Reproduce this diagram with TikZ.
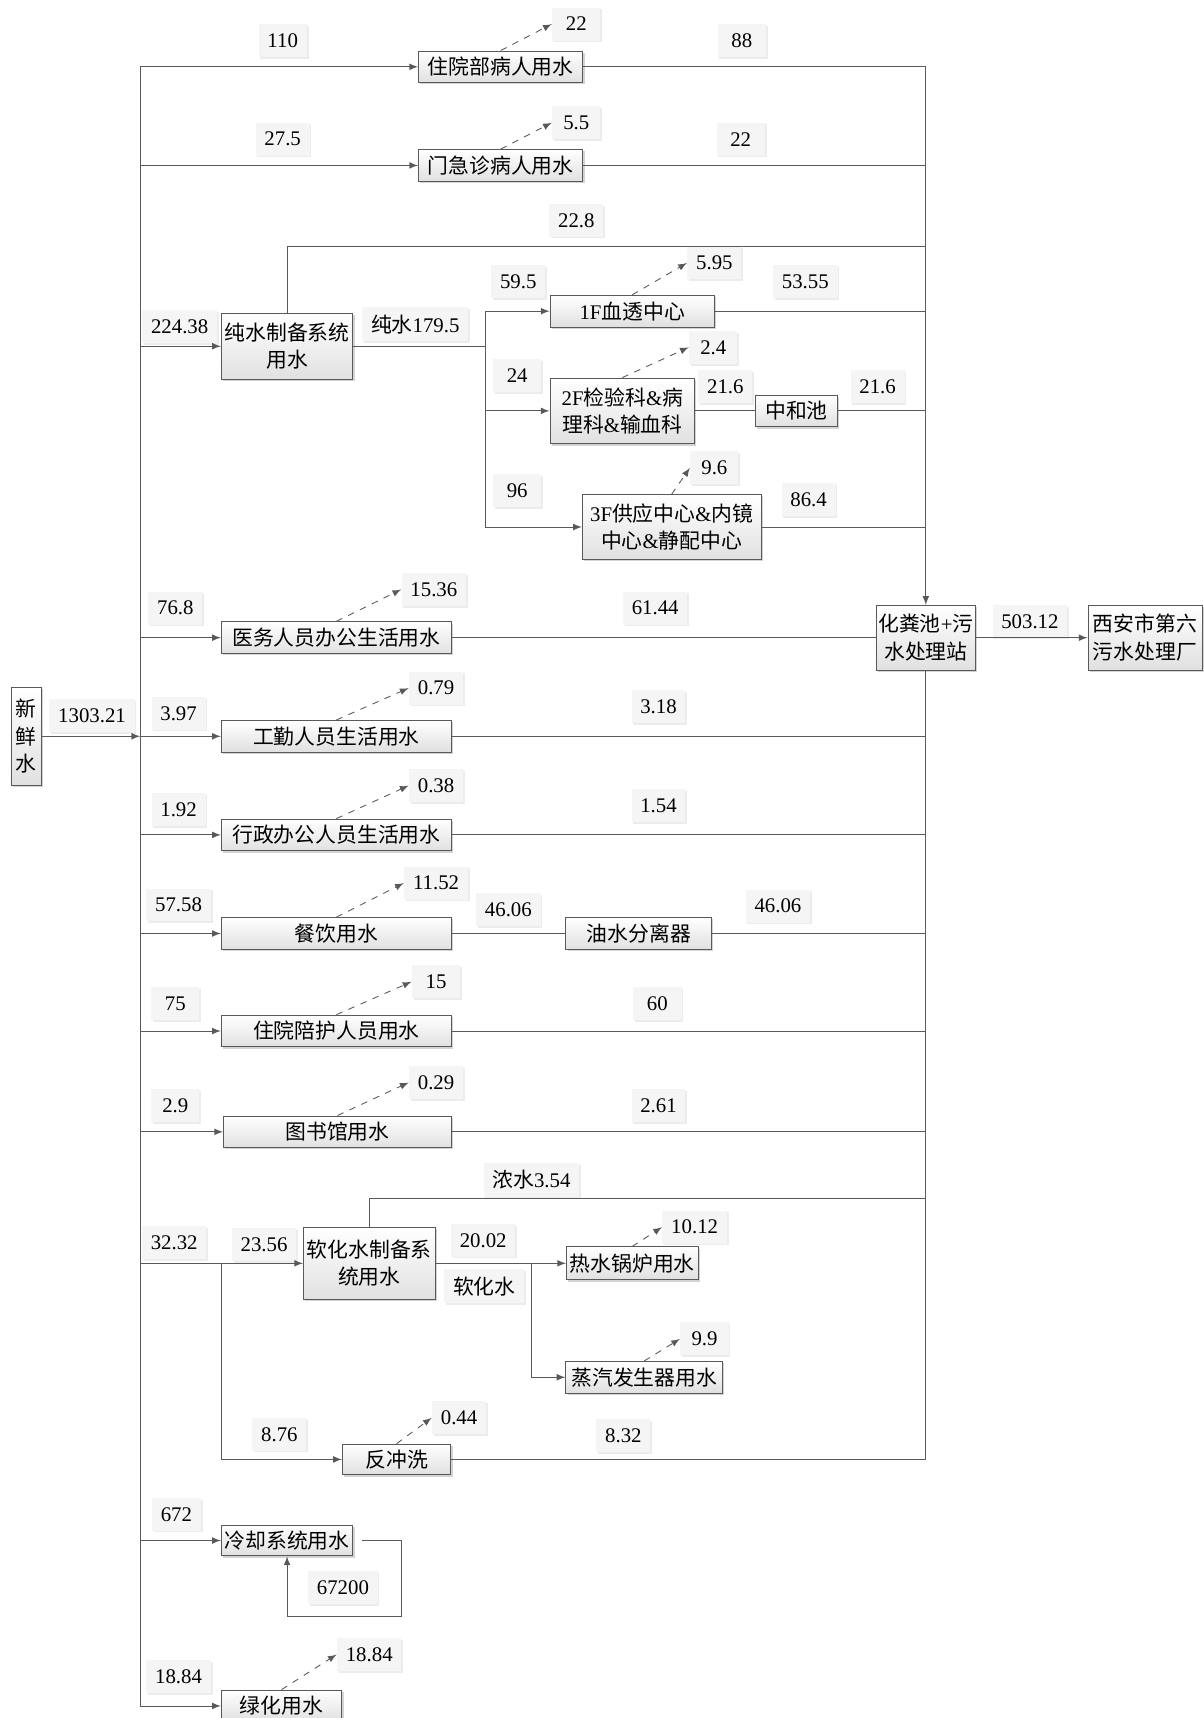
\documentclass[tikz,border=0pt]{standalone}
\usepackage{fontspec}
\setmainfont{Liberation Serif}
\newfontfamily\cjk{Noto Sans CJK SC}
\newcommand\zh[1]{{\cjk #1}}
\usetikzlibrary{arrows,shadows}
\tikzset{ %inner sep = 1pt,
  >=latex,
  {flow/.style} ={rectangle, draw=black!65, thin, top color=white,
                  bottom color=black!12, inner sep=1pt, align=center,
                  drop shadow={shadow xshift=.8pt,shadow yshift=-.8pt,opacity=.35},
                  font=\fontsize{9.5}{12.5}\selectfont},
  {num/.style} ={rectangle, fill=black!4, inner xsep=4pt,
                  minimum width=22pt, minimum height=15pt,
                  drop shadow={shadow xshift=.8pt,shadow yshift=-.8pt,opacity=.15},
                  font=\fontsize{9.5}{12.5}\selectfont},
  {pipe/.style} ={black!65, thin},
  {loss/.style} ={pipe, dashed, ->},
}

\begin{document}
\begin{tikzpicture}[x=0.5pt,y=-0.5pt]
\useasboundingbox (0,0) rectangle (1098,1568);
\coordinate (busL) at (128,0);
\coordinate (busR) at (845,0);
\coordinate (pj) at (443,0);
\coordinate (sj) at (202,0);
\coordinate (hj) at (485,0);
\coordinate (pureret) at (845,225);
\coordinate (softret) at (845,1094);
\coordinate (coolret) at (366,1475);

% units
\node[flow, minimum width=14pt, minimum height=45pt] (fresh) at (24,672) {\zh{新}\\\zh{鲜}\\\zh{水}};
\node[flow, minimum width=75pt, minimum height=14.5pt] (inpat) at (457,61) {\zh{住院部病人用水}};
\node[flow, minimum width=75pt, minimum height=14.5pt] (outpat) at (457,151) {\zh{门急诊病人用水}};
\node[flow, minimum width=60pt, minimum height=30pt] (pure) at (262,316) {\zh{纯水制备系统}\\\zh{用水}};
\node[flow, minimum width=75pt, minimum height=14.5pt] (dialysis) at (577,284) {1F\zh{血透中心}};
\node[flow, minimum width=66pt, minimum height=30pt] (lab) at (568,375) {2F\zh{检验科}\&\zh{病}\\\zh{理科}\&\zh{输血科}};
\node[flow, minimum width=37.5pt, minimum height=14.5pt] (neutral) at (727,375) {\zh{中和池}};
\node[flow, minimum width=81.5pt, minimum height=29.5pt] (supply) at (613,481) {3F\zh{供应中心}\&\zh{内镜}\\\zh{中心}\&\zh{静配中心}};
\node[flow, minimum width=45pt, minimum height=29.5pt] (septic) at (845,582) {\zh{化粪池}+\zh{污}\\\zh{水处理站}};
\node[flow, minimum width=52pt, minimum height=29.5pt] (plant) at (1045,582) {\zh{西安市第六}\\\zh{污水处理厂}};
\node[flow, minimum width=105pt, minimum height=14.5pt] (medstaff) at (307,582) {\zh{医务人员办公生活用水}};
\node[flow, minimum width=105pt, minimum height=14.5pt] (worker) at (307,672) {\zh{工勤人员生活用水}};
\node[flow, minimum width=105pt, minimum height=14.5pt] (admin) at (307,762) {\zh{行政办公人员生活用水}};
\node[flow, minimum width=105pt, minimum height=14.5pt] (canteen) at (307,852) {\zh{餐饮用水}};
\node[flow, minimum width=66.5pt, minimum height=14.5pt] (oilsep) at (583,852) {\zh{油水分离器}};
\node[flow, minimum width=105pt, minimum height=14.5pt] (escort) at (307,941) {\zh{住院陪护人员用水}};
\node[flow, minimum width=104pt, minimum height=14.5pt] (library) at (308,1033) {\zh{图书馆用水}};
\node[flow, minimum width=60pt, minimum height=33pt] (softener) at (337,1153) {\zh{软化水制备系}\\\zh{统用水}};
\node[flow, minimum width=60pt, minimum height=15pt] (boiler) at (577,1153) {\zh{热水锅炉用水}};
\node[flow, minimum width=71.5pt, minimum height=14.5pt] (steam) at (588,1257) {\zh{蒸汽发生器用水}};
\node[flow, minimum width=49.5pt, minimum height=14pt] (backwash) at (362,1332) {\zh{反冲洗}};
\node[flow, minimum width=60pt, minimum height=14pt] (cooling) at (262,1406) {\zh{冷却系统用水}};
\node[flow, minimum width=55pt, minimum height=14.5pt] (greening) at (257,1557) {\zh{绿化用水}};

% flow values
\node[num] (f110) at (258,37) {110};
\node[num] (f88) at (677,37) {88};
\node[num] (e22) at (526,22) {22};
\node[num] (f275) at (258,127) {27.5};
\node[num] (f22) at (676,127) {22};
\node[num] (e55) at (526,112) {5.5};
\node[num] (f228) at (526,201) {22.8};
\node[num] (f22438) at (164,298) {224.38};
\node[num] (f1795) at (379,296) {\zh{纯水}179.5};
\node[num] (f595) at (473,257) {59.5};
\node[num] (f5355) at (735,257) {53.55};
\node[num] (e595) at (652,240) {5.95};
\node[num] (f24) at (472,343) {24};
\node[num] (f216a) at (662,353) {21.6};
\node[num] (f216b) at (801,353) {21.6};
\node[num] (e24) at (651,317) {2.4};
\node[num] (f96) at (472,448) {96};
\node[num] (f864) at (738,456) {86.4};
\node[num] (e96) at (652,427) {9.6};
\node[num] (f768) at (160,555) {76.8};
\node[num] (f6144) at (598,555) {61.44};
\node[num] (e1536) at (396,538) {15.36};
\node[num] (f50312) at (940,567) {503.12};
\node[num] (f130321) at (84,653) {1303.21};
\node[num] (f397) at (163,651) {3.97};
\node[num] (f318) at (601,645) {3.18};
\node[num] (e079) at (398,628) {0.79};
\node[num] (f192) at (163,739) {1.92};
\node[num] (f154) at (601,735) {1.54};
\node[num] (e038) at (398,717) {0.38};
\node[num] (f5758) at (163,826) {57.58};
\node[num] (f4606a) at (464,830) {46.06};
\node[num] (f4606b) at (710,827) {46.06};
\node[num] (e1152) at (398,806) {11.52};
\node[num] (f75) at (160,916) {75};
\node[num] (f60) at (600,916) {60};
\node[num] (e15) at (398,896) {15};
\node[num] (f29) at (160,1009) {2.9};
\node[num] (f261) at (601,1009) {2.61};
\node[num] (e029) at (398,988) {0.29};
\node[num] (f3232) at (159,1134) {32.32};
\node[num] (f2356) at (241,1136) {23.56};
\node[num] (f354) at (485,1077) {\zh{浓水}3.54};
\node[num] (f2002) at (441,1132) {20.02};
\node[num] (fsoft) at (442,1174) {\zh{软化水}};
\node[num] (e1012) at (634,1120) {10.12};
\node[num] (e99) at (643,1222) {9.9};
\node[num] (e044) at (419,1294) {0.44};
\node[num] (f876) at (255,1309) {8.76};
\node[num] (f832) at (569,1310) {8.32};
\node[num] (f672) at (161,1382) {672};
\node[num] (f67200) at (313,1449) {67200};
\node[num] (f1884) at (163,1530) {18.84};
\node[num] (e1884) at (337,1510) {18.84};

% supply side
\draw[pipe,->] (fresh.east) -- (fresh.east -| busL);
\draw[pipe] (inpat.west -| busL) -- (greening.west -| busL);
\path[pipe,->] (inpat.west -| busL) edge (inpat.west)
        (outpat.west -| busL) edge (outpat.west)
        (pure.west -| busL) edge (pure.west)
        (medstaff.west -| busL) edge (medstaff.west)
        (worker.west -| busL) edge (worker.west)
        (admin.west -| busL) edge (admin.west)
        (canteen.west -| busL) edge (canteen.west)
        (escort.west -| busL) edge (escort.west)
        (library.west -| busL) edge (library.west)
        (softener.west -| busL) edge (softener.west)
        (cooling.west -| busL) edge (cooling.west)
        (greening.west -| busL) edge (greening.west);

% pure water
\path[pipe] (pure.east) edge (pure.east -| pj)
        (dialysis.west -| pj) edge (supply.west -| pj);
\path[pipe,->] (dialysis.west -| pj) edge (dialysis.west)
        (lab.west -| pj) edge (lab.west)
        (supply.west -| pj) edge (supply.west);
\draw[pipe] (pure.north) |- (pureret);

% soft water
\path[pipe] (softener.west -| sj) edge (backwash.west -| sj)
        (softener.east) edge (softener.east -| hj)
        (boiler.west -| hj) edge (steam.west -| hj);
\path[pipe,->] (backwash.west -| sj) edge (backwash.west)
        (boiler.west -| hj) edge (boiler.west)
        (steam.west -| hj) edge (steam.west);
\draw[pipe] (softener.north) |- (softret);

% cooling loop
\draw[pipe,->] ([xshift=4pt]cooling.east) -| (coolret) -| (cooling.south);

% drainage
\path[pipe] (inpat.east) edge (inpat.east -| busR)
        (outpat.east) edge (outpat.east -| busR)
        (dialysis.east) edge (dialysis.east -| busR)
        (lab.east) edge (neutral.west)
        (neutral.east) edge (neutral.east -| busR)
        (supply.east) edge (supply.east -| busR)
        (medstaff.east) edge (septic.west)
        (worker.east) edge (worker.east -| busR)
        (admin.east) edge (admin.east -| busR)
        (canteen.east) edge (oilsep.west)
        (oilsep.east) edge (oilsep.east -| busR)
        (escort.east) edge (escort.east -| busR)
        (library.east) edge (library.east -| busR)
        (backwash.east) edge (backwash.east -| busR);
\draw[pipe,->] (inpat.east -| busR) -- (septic.north);
\draw[pipe] (septic.south) -- (backwash.east -| busR);
\draw[pipe,->] (septic.east) -- (plant.west);

% losses
\path[loss] (inpat.north) edge (e22.west)
        (outpat.north) edge (e55.west)
        (dialysis.north) edge (e595.west)
        (lab.north) edge (e24.west)
        (supply.north) edge (e96.west)
        (medstaff.north) edge (e1536.west)
        (worker.north) edge (e079.west)
        (admin.north) edge (e038.west)
        (canteen.north) edge (e1152.west)
        (escort.north) edge (e15.west)
        (library.north) edge (e029.west)
        (boiler.north) edge (e1012.west)
        (steam.north) edge (e99.west)
        (backwash.north) edge (e044.west)
        (greening.north) edge (e1884.west);
\end{tikzpicture}
\end{document}
